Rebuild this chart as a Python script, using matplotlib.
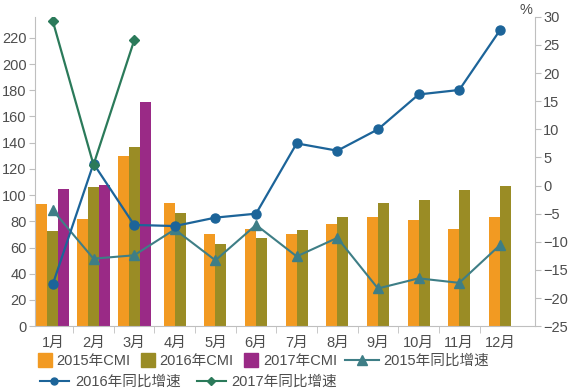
import matplotlib.pyplot as plt
import numpy as np
from matplotlib.lines import Line2D

plt.rcParams['font.family'] = ['Liberation Sans', 'Noto Sans CJK SC', 'DejaVu Sans']

# 数据
months = ['1月', '2月', '3月', '4月', '5月', '6月', '7月', '8月', '9月', '10月', '11月', '12月']
cmi_2015 = [93, 82, 130, 94, 70, 74, 70, 78, 83, 81, 74, 83]
cmi_2016 = [72.5, 106, 137, 86, 63, 67, 73, 83, 94, 96, 104, 107]
cmi_2017 = [105, 107.5, 171]
growth_2015 = [-4.4, -13.0, -12.4, -7.8, -13.3, -7.0, -12.6, -9.3, -18.3, -16.5, -17.3, -10.6]
growth_2016 = [-17.5, 3.9, -7.0, -7.2, -5.7, -5.0, 7.5, 6.2, 10.0, 16.2, 17.0, 27.6]
growth_2017 = [29.2, 3.7, 25.8]

c_2015 = '#F29A22'
c_2016 = '#9A8C25'
c_2017 = '#9A2A86'
c_g2015 = '#3E7E86'
c_g2016 = '#1C6499'
c_g2017 = '#2B7A5A'
grey = '#BFBFBF'
text_c = '#4D4D4D'

fig = plt.figure(figsize=(5.68, 3.92), dpi=100)
ax = fig.add_axes([0.0616, 0.168, 0.880, 0.789])
ax2 = ax.twinx()

x = np.arange(len(months))
w = 0.27

# 柱状图：每月有几组数据就居中排几根
series = [(cmi_2015, c_2015), (cmi_2016, c_2016), (cmi_2017, c_2017)]
for i in x:
    present = [(vals[i], col) for vals, col in series if i < len(vals)]
    n = len(present)
    for j, (v, col) in enumerate(present):
        ax.bar(i + (j - (n - 1) / 2) * w, v, width=w, color=col, zorder=2)

# 同比增速（右轴）
ax2.plot(x, growth_2015, color=c_g2015, lw=1.5, marker='^', ms=7, zorder=3)
ax2.plot(x, growth_2016, color=c_g2016, lw=1.6, marker='o', ms=6.5, zorder=4)
ax2.plot(x[:len(growth_2017)], growth_2017, color=c_g2017, lw=1.6, marker='D', ms=5.5, zorder=5)

ax.set_xlim(-0.44, 11.86)
ax.set_ylim(0, 236)
ax.set_yticks(np.arange(0, 221, 20))
ax2.set_ylim(-25, 30)
ax2.set_yticks(np.arange(-25, 31, 5))

ax.set_xticks(x)
ax.set_xticklabels(months)
ax.set_xticks(x[:-1] + 0.5, minor=True)
ax.tick_params(axis='x', which='major', length=0, pad=7, labelsize=10.5, labelcolor=text_c)
ax.tick_params(axis='x', which='minor', length=5, color=grey)
ax.tick_params(axis='y', length=4, color=grey, labelsize=10.5, labelcolor=text_c, pad=2)
ax2.tick_params(axis='y', length=4, color=grey, labelsize=10.5, labelcolor=text_c, pad=2)

for a in (ax, ax2):
    a.spines['top'].set_visible(False)
    for s in ('left', 'right', 'bottom'):
        a.spines[s].set_color(grey)
ax.spines['right'].set_visible(False)
ax2.spines['left'].set_visible(False)
ax2.spines['bottom'].set_visible(False)

ax2.text(0.995, 1.0, '%', transform=ax2.transAxes, ha='right', va='bottom',
         fontsize=10.5, color=text_c)

# 图例（两行）
bar_handles = [Line2D([], [], ls='none', marker='s', ms=10, color=c) for c in (c_2015, c_2016, c_2017)]
fig.legend(bar_handles, ['2015年CMI', '2016年CMI', '2017年CMI'], ncol=3,
           loc='center left', bbox_to_anchor=(0.066, 0.079), frameon=False,
           fontsize=10.5, handlelength=1.0, handletextpad=0.3, columnspacing=0.7,
           labelcolor=text_c, borderaxespad=0, borderpad=0)
fig.legend([Line2D([], [], color=c_g2015, lw=1.5, marker='^', ms=7)], ['2015年同比增速'],
           loc='center left', bbox_to_anchor=(0.608, 0.079), frameon=False,
           fontsize=10.5, handlelength=2.3, handletextpad=0.3,
           labelcolor=text_c, borderaxespad=0, borderpad=0)
fig.legend([Line2D([], [], color=c_g2016, lw=1.5, marker='o', ms=5),
            Line2D([], [], color=c_g2017, lw=1.5, marker='D', ms=4.5)],
           ['2016年同比增速', '2017年同比增速'], ncol=2,
           loc='center left', bbox_to_anchor=(0.07, 0.026), frameon=False,
           fontsize=10.5, handlelength=2.0, handletextpad=0.4, columnspacing=1.1,
           labelcolor=text_c, borderaxespad=0, borderpad=0)

fig.savefig('out.png', dpi=100)
